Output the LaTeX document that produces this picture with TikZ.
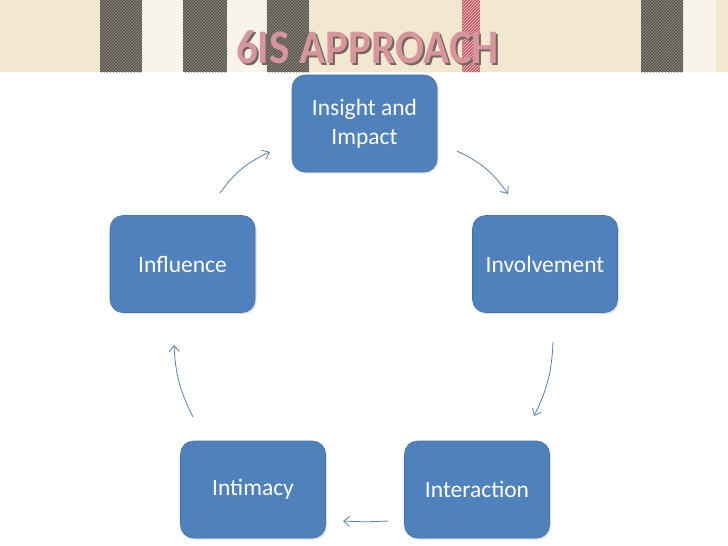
\documentclass[tikz,border=0pt]{standalone}
\usepackage{fontspec}
\setmainfont{Carlito}
\usetikzlibrary{arrows.meta,patterns,shadows}
\definecolor{boxblue}{HTML}{4F81BD}
\definecolor{boxedge}{HTML}{4474AE}
\definecolor{arr}{HTML}{5B80AC}
\definecolor{cream}{HTML}{F2E7CF}
\definecolor{offwhite}{HTML}{F8F4EC}
\definecolor{darkstripe}{HTML}{57534D}
\definecolor{hatch}{HTML}{9E988E}
\definecolor{redstripe}{HTML}{C85C66}
\definecolor{titlecol}{HTML}{D8959C}
\definecolor{titleshadow}{HTML}{6E6862}
\tikzset{
  stepbox/.style={draw=boxedge, line width=0.6pt, fill=boxblue, rounded corners=13pt,
    minimum width=145pt, minimum height=97pt, text=white, align=center,
    font=\fontsize{23.5}{29}\selectfont,
    drop shadow={shadow xshift=1.5pt, shadow yshift=-1.5pt, opacity=0.25}},
  cyc/.style={draw=arr, line width=0.8pt, -{Straight Barb[length=6pt,width=10pt]}},
  stripe/.style={fill=darkstripe},
  hatchstripe/.style={pattern=north east lines, pattern color=hatch}
}
\newcommand{\shadowtext}[1]{\makebox[0pt][l]{\hspace{2pt}\raisebox{-2pt}{\color{titleshadow}#1}}#1}
\begin{document}
\begin{tikzpicture}[x=1pt,y=-1pt]
\useasboundingbox (0,0) rectangle (728,546);
\fill[white] (0,0) rectangle (728,546);
% fabric band
\fill[cream] (0,0) rectangle (728,72);
\fill[offwhite] (142,0) rectangle (183,72);
\fill[offwhite] (227,0) rectangle (266,72);
\fill[offwhite] (684,0) rectangle (716,72);
\foreach \a/\b in {100/142,183/227,267/309,641/683}{
  \fill[stripe] (\a,0) rectangle (\b,72);
  \fill[hatchstripe] (\a,0) rectangle (\b,72);
}
\fill[redstripe] (462,0) rectangle (480,72);
\fill[pattern=north east lines, pattern color=white!70!redstripe] (462,0) rectangle (480,72);
% title
\node[text=titlecol, font=\bfseries\fontsize{43}{46}\selectfont, yscale=1.12, anchor=base] (title) at (367.5,63) {\shadowtext{6IS APPROACH}};
% boxes
\node[stepbox] (insight) at (364.5,123.5) {Insight and\\Impact};
\node[stepbox] (involve) at (545,264) {Involvement};
\node[stepbox] (interact) at (477,489.5) {Interaction};
\node[stepbox] (intimacy) at (253,489.5) {Intimacy};
\node[stepbox] (influence) at (182.5,264) {Influence};
% arrow ends
\coordinate (a1s) at (220,193); \coordinate (a1e) at (270,152);
\coordinate (a2s) at (457,151); \coordinate (a2e) at (508,194);
\coordinate (a3s) at (553,342); \coordinate (a3e) at (534,416);
\coordinate (a4s) at (388,521); \coordinate (a4e) at (343,521);
\coordinate (a5s) at (193,417); \coordinate (a5e) at (174,345);
\draw[cyc] (a1s) to[bend left=15] (a1e);
\draw[cyc] (a2s) to[bend left=15] (a2e);
\draw[cyc] (a3s) to[bend left=12] (a3e);
\draw[cyc] (a4s) to[bend left=3] (a4e);
\draw[cyc] (a5s) to[bend left=12] (a5e);
\end{tikzpicture}
\end{document}
